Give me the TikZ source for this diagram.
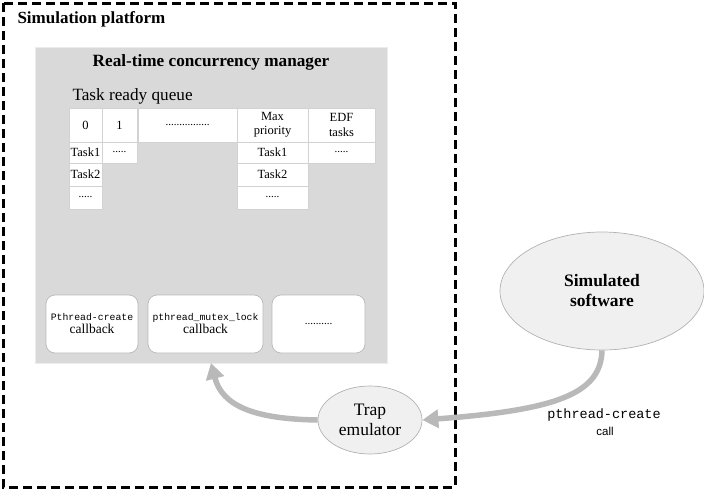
\documentclass[tikz,border=0pt]{standalone}
\usepackage{fontspec}
\setmainfont{Liberation Serif}
\setmonofont{Liberation Mono}
\setsansfont{Liberation Sans}
\usetikzlibrary{arrows.meta,shapes.geometric}
\begin{document}
\begin{tikzpicture}[x=1pt,y=-1pt,
  cell/.style={draw=gray!35, fill=white, line width=0.6pt, inner sep=0pt, align=center,
    font=\fontsize{12.5}{14.5}\selectfont},
  cbbox/.style={draw=gray!55, fill=white, rounded corners=9pt, line width=0.7pt,
    align=center, inner sep=0pt, minimum height=58pt},
  oval/.style={ellipse, draw=gray!60, fill=gray!12, line width=0.7pt, inner sep=0pt, align=center},
  flow/.style={draw=gray!55, line width=5.5pt, -{Triangle[length=16pt,width=18pt]}}]
\useasboundingbox (0,0) rectangle (704,490);
% outer dashed frame
\draw[line width=3pt, dash pattern=on 9pt off 5pt] (3,3) rectangle (455,487);
\node[anchor=west, font=\fontsize{17}{19}\selectfont\bfseries] (plat) at (14,19) {Simulation platform};
% manager box
\node[draw=gray!15, fill=gray!30, line width=1pt, minimum width=352pt, minimum height=316pt, inner sep=0pt] (mgr) at (211,205) {};
\node[font=\fontsize{17.2}{19}\selectfont\bfseries] (mgrt) at (211,62) {Real-time concurrency manager};
\node[anchor=west, font=\fontsize{17.2}{19}\selectfont] (trq) at (69,96) {Task ready queue};
% table row 1
\node[cell, minimum width=33pt, minimum height=34pt] (c00) at (85.5,125) {0};
\node[cell, minimum width=35pt, minimum height=34pt] (c01) at (119.5,125) {1};
\node[cell, minimum width=99pt, minimum height=34pt, font=\fontsize{11}{12}\selectfont] (c02) at (187.5,125) {................};
\node[cell, minimum width=71pt, minimum height=34pt] (c03) at (272.5,125) {Max\\priority};
\node[cell, minimum width=67pt, minimum height=34pt] (c04) at (341.5,125) {EDF\\tasks};
% row 2
\node[cell, minimum width=33pt, minimum height=21pt] (c10) at (85.5,152.5) {Task1};
\node[cell, minimum width=35pt, minimum height=21pt, font=\fontsize{11}{12}\selectfont] (c11) at (119.5,152.5) {.....};
\node[cell, minimum width=71pt, minimum height=21pt] (c13) at (272.5,152.5) {Task1};
\node[cell, minimum width=67pt, minimum height=21pt, font=\fontsize{11}{12}\selectfont] (c14) at (341.5,152.5) {.....};
% row 3
\node[cell, minimum width=33pt, minimum height=23pt] (c20) at (85.5,174.5) {Task2};
\node[cell, minimum width=71pt, minimum height=23pt] (c23) at (272.5,174.5) {Task2};
% row 4
\node[cell, minimum width=33pt, minimum height=23pt, font=\fontsize{11}{12}\selectfont] (c30) at (85.5,197.5) {.....};
\node[cell, minimum width=71pt, minimum height=23pt, font=\fontsize{11}{12}\selectfont] (c33) at (272.5,197.5) {.....};
% callback boxes
\node[cbbox, minimum width=92pt] (cb1) at (92,324) {{\fontsize{9.8}{11}\selectfont\ttfamily Pthread-create}\\[1pt]{\fontsize{13.5}{15}\selectfont callback}};
\node[cbbox, minimum width=115pt] (cb2) at (205.5,324) {{\fontsize{9.8}{11}\selectfont\ttfamily pthread\_mutex\_lock}\\[1pt]{\fontsize{13.5}{15}\selectfont callback}};
\node[cbbox, minimum width=93pt, font=\fontsize{11}{12}\selectfont] (cb3) at (318.5,324) {..........};
% ellipses
\node[oval, minimum width=204pt, minimum height=118pt, font=\fontsize{17.5}{20}\selectfont\bfseries] (sim) at (602,291) {Simulated\\software};
\node[oval, minimum width=104pt, minimum height=68pt, font=\fontsize{17.5}{19.5}\selectfont] (trap) at (370,420) {Trap\\emulator};
% labels
\node[font=\fontsize{13.5}{15}\selectfont\ttfamily] (lbl1) at (604,415) {pthread-create};
\node[font=\fontsize{11.5}{13}\selectfont\sffamily] (lbl2) at (605,431) {call};
% arrows
\coordinate (tip2) at (211,363);
\draw[flow] (sim.south) .. controls (601,394) and (556,410) .. (trap.east);
\draw[flow] (trap.west) .. controls (252,419) and (222,405) .. (tip2);
\end{tikzpicture}
\end{document}
